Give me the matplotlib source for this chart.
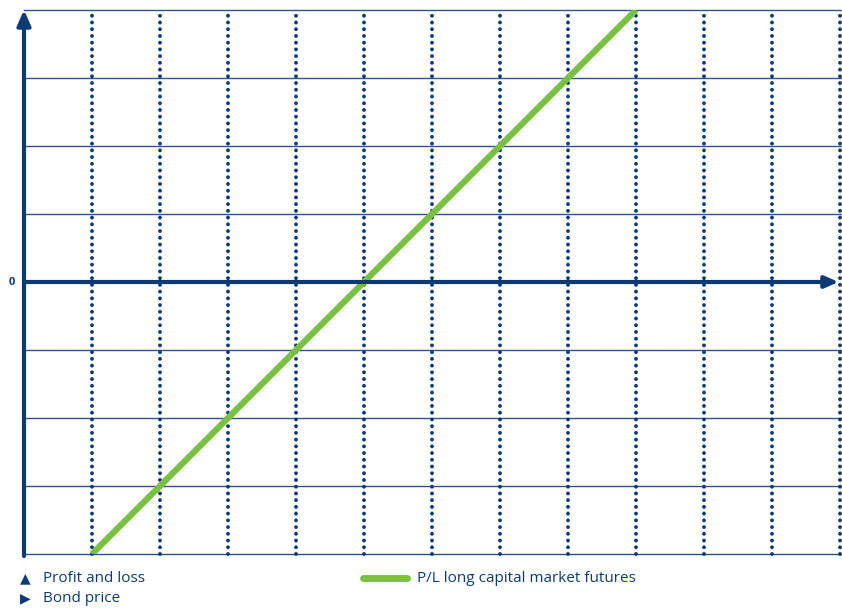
import numpy as np
import matplotlib.pyplot as plt
from matplotlib.lines import Line2D

plt.rcParams['font.family'] = ['Open Sans', 'DejaVu Sans']

# data
bond_price = [1, 9]
pnl_long_futures = [-4, 4]
x_grid = list(range(1, 13))
y_grid = [-4, -3, -2, -1, 1, 2, 3, 4]

navy = '#0b3b74'
gridc = '#2a5690'
green = '#7ac143'

fig = plt.figure(figsize=(8.42, 6.08), dpi=100)
ax = fig.add_axes([24/842, 54/608, 816/842, 544/608])
ax.set_xlim(0, 12)
ax.set_ylim(-4, 4)
ax.axis('off')

# horizontal grid
for y in y_grid:
    ax.plot([0, 12.05], [y, y], color=gridc, lw=1.0, zorder=1, clip_on=False)

# vertical dotted lines
for x in x_grid:
    ax.plot([x, x], [-4, 4], color=navy, lw=2.8, linestyle=(0, (0.01, 1.72)),
            dash_capstyle='round', zorder=2, clip_on=False)

# P/L line
ax.plot(bond_price, pnl_long_futures, color=green, lw=4.5, solid_capstyle='butt', zorder=3)

# axes arrows
ax.annotate('', xy=(0, 4.0), xytext=(0, -4.03),
            arrowprops=dict(arrowstyle='-|>,head_length=0.9,head_width=0.4', color=navy, lw=3,
                            shrinkA=0, shrinkB=0), zorder=4, annotation_clip=False)
ax.annotate('', xy=(11.98, 0), xytext=(0, 0),
            arrowprops=dict(arrowstyle='-|>,head_length=0.8,head_width=0.35', color=navy, lw=3,
                            shrinkA=0, shrinkB=0), zorder=4, annotation_clip=False)

fig.text(12/842, 1 - 282/608, '0', color=navy, fontsize=8, fontweight='bold',
         ha='center', va='center')

# legend
fig.text(20/842, 1 - 578/608, '\u25b2', color=navy, fontsize=10, ha='left', va='center',
         family=['DejaVu Sans'])
fig.text(43/842, 1 - 578/608, 'Profit and loss', color=navy, fontsize=11, ha='left', va='center')
fig.text(20/842, 1 - 598/608, '\u25b6', color=navy, fontsize=10, ha='left', va='center',
         family=['DejaVu Sans'])
fig.text(43/842, 1 - 598/608, 'Bond price', color=navy, fontsize=11, ha='left', va='center')
fig.add_artist(Line2D([363/842, 407/842], [1 - 578/608, 1 - 578/608], color=green, lw=5,
                      solid_capstyle='round'))
fig.text(417/842, 1 - 578/608, 'P/L long capital market futures', color=navy, fontsize=11,
         ha='left', va='center')

fig.savefig('out.png', dpi=100)
